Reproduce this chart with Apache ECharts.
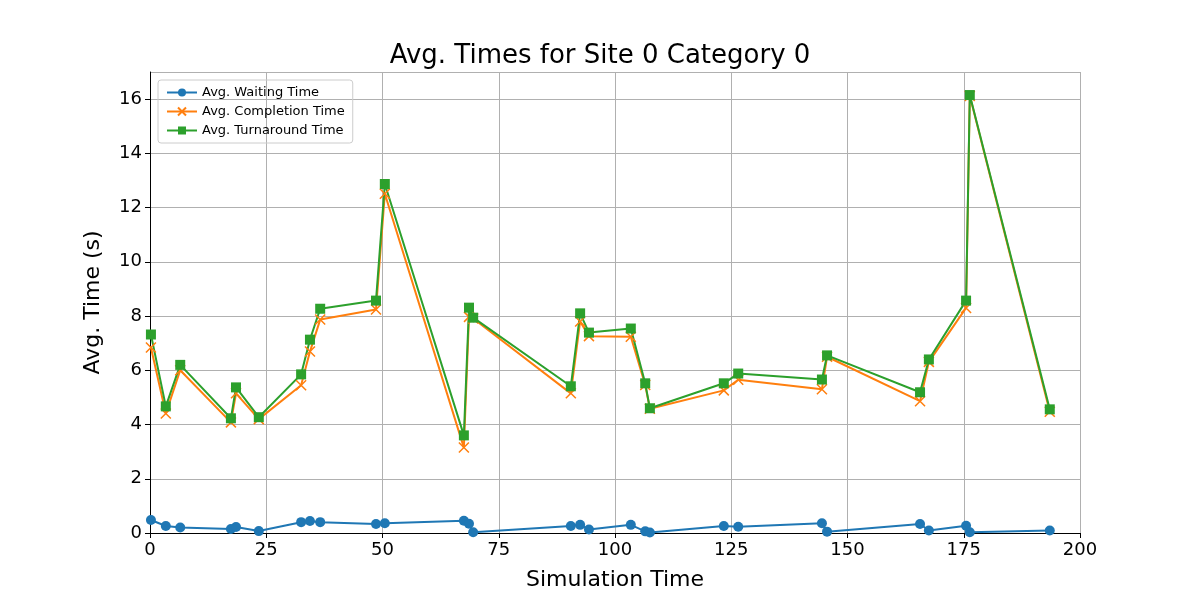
<!DOCTYPE html>
<html><head><meta charset="utf-8">
<script src="https://cdn.jsdelivr.net/npm/echarts@6/dist/echarts.min.js"></script>
<style>html,body{margin:0;padding:0;background:#fff}#c{width:1200px;height:600px}</style>
</head><body><div id="c"></div>
<script>
const simTime=[0.2,3.4,6.5,17.4,18.5,23.4,32.5,34.4,36.6,48.6,50.5,67.5,68.6,69.5,90.5,92.5,94.4,103.4,106.5,107.5,123.4,126.5,144.5,145.6,165.6,167.5,175.5,176.3,193.5];
const waiting=[0.48,0.26,0.2,0.15,0.22,0.07,0.4,0.44,0.4,0.33,0.36,0.45,0.34,0.03,0.26,0.3,0.13,0.3,0.06,0.02,0.26,0.23,0.36,0.05,0.33,0.09,0.27,0.03,0.09];
const completion=[6.84,4.41,6.0,4.08,5.15,4.2,5.45,6.69,7.87,8.24,12.51,3.15,7.97,7.91,5.15,7.8,7.26,7.24,5.46,4.58,5.26,5.65,5.3,6.5,4.86,6.31,8.3,16.12,4.47];
const turnaround=[7.32,4.67,6.2,4.23,5.37,4.27,5.85,7.13,8.27,8.57,12.87,3.6,8.31,7.94,5.41,8.1,7.39,7.54,5.52,4.6,5.52,5.88,5.66,6.55,5.19,6.4,8.57,16.15,4.56];
const pair=a=>a.map((v,i)=>[simTime[i],v]);
const F='DejaVu Sans';
const chart=echarts.init(document.getElementById('c'));
chart.setOption({
 animation:false,
 title:{text:'Avg. Times for Site 0 Category 0',left:'center',top:38,textStyle:{fontFamily:F,fontSize:26,fontWeight:'normal',color:'#000'}},
 grid:{left:150,right:120,top:72,bottom:67},
 legend:{left:158,top:80,orient:'vertical',itemGap:6,itemWidth:30,itemHeight:10,borderColor:'#ccc',borderWidth:1,borderRadius:3,padding:[6,8],textStyle:{fontFamily:F,fontSize:13,color:'#000'},
  data:['Avg. Waiting Time','Avg. Completion Time','Avg. Turnaround Time']},
 xAxis:{type:'value',min:0,max:200,interval:25,name:'Simulation Time',nameLocation:'middle',nameGap:36,nameTextStyle:{fontFamily:F,fontSize:22,color:'#000'},
  axisLine:{lineStyle:{color:'#000'}},axisTick:{lineStyle:{color:'#000'}},axisLabel:{fontFamily:F,fontSize:18,color:'#000'},splitLine:{lineStyle:{color:'#b0b0b0'}}},
 yAxis:{type:'value',min:0,max:17,interval:2,name:'Avg. Time (s)',nameLocation:'middle',nameGap:46,nameTextStyle:{fontFamily:F,fontSize:22,color:'#000'},
  axisLine:{show:true,lineStyle:{color:'#000'}},axisTick:{show:true,lineStyle:{color:'#000'}},axisLabel:{fontFamily:F,fontSize:18,color:'#000',showMaxLabel:false},splitLine:{lineStyle:{color:'#b0b0b0'}}},
 series:[
  {name:'Avg. Waiting Time',type:'line',data:pair(waiting),color:'#1f77b4',symbol:'circle',symbolSize:10,lineStyle:{width:2,color:'#1f77b4'}},
  {name:'Avg. Completion Time',type:'line',data:pair(completion),color:'#ff7f0e',symbol:'path://M0,0L10,10M10,0L0,10',symbolSize:10,itemStyle:{borderColor:'#ff7f0e',borderWidth:1.5,color:'#ff7f0e'},lineStyle:{width:2,color:'#ff7f0e'}},
  {name:'Avg. Turnaround Time',type:'line',data:pair(turnaround),color:'#2ca02c',symbol:'rect',symbolSize:10,lineStyle:{width:2,color:'#2ca02c'}}
 ]
});
</script></body></html>
